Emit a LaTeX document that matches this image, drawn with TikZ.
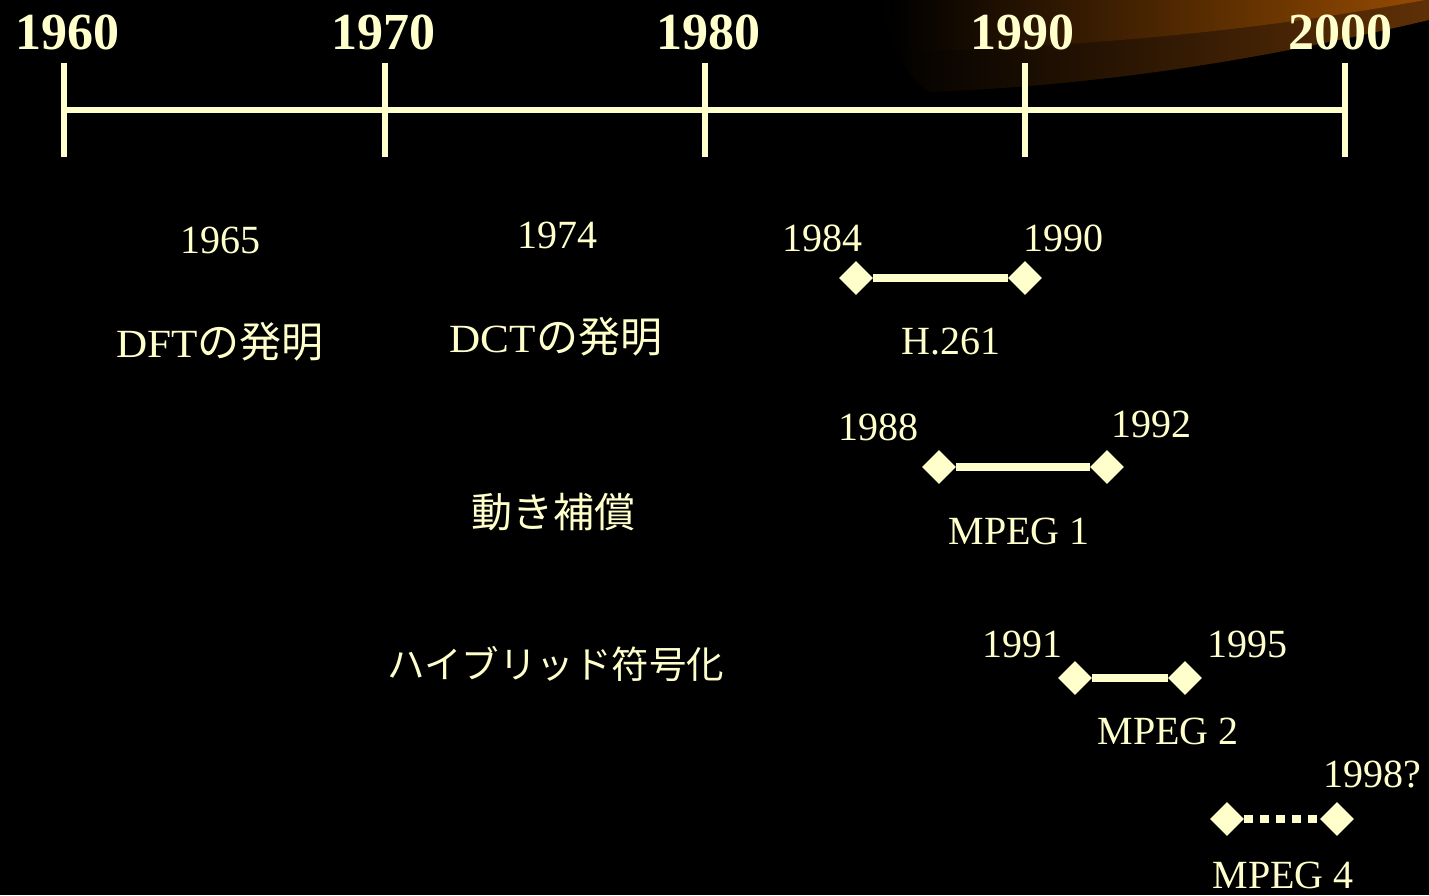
\documentclass[tikz,border=0pt]{standalone}
\usepackage{fontspec}
\setmainfont{Liberation Serif}
\newfontfamily\jp{Noto Sans CJK JP}
\usetikzlibrary{shapes.geometric}
\definecolor{cream}{HTML}{FFFFCC}
\definecolor{swA}{RGB}{95,48,6}
\definecolor{swB}{RGB}{150,75,2}
\begin{document}
\begin{tikzpicture}[x=1pt,y=-1pt,
  yearbig/.style={text=cream,font=\fontsize{52}{56}\selectfont\bfseries,inner sep=0},
  yearsm/.style={text=cream,font=\fontsize{40}{44}\selectfont,inner sep=0},
  label/.style={text=cream,font=\fontsize{40}{44}\selectfont,inner sep=0},
  jlabel/.style={text=cream,font=\fontsize{41}{44}\selectfont\jp,inner sep=0},
  dia/.style={diamond,fill=cream,draw=none,minimum width=34pt,minimum height=34pt,inner sep=0},
  span/.style={draw=cream,line width=7.5pt},
  dspan/.style={draw=cream,line width=8pt,dash pattern=on 9pt off 7pt},
  axis/.style={draw=cream,line width=6pt},
  tick/.style={draw=cream,line width=6pt}]
\fill[black] (0,0) rectangle (1429,895);
\useasboundingbox (0,0) rectangle (1429,895);
% swoosh
\shade[left color=black,right color=swA] (880,0) -- (1429,0) -- (1429,20) .. controls (1250,62) and (1100,85) .. (930,92) .. controls (905,80) and (890,40) .. (880,0) -- cycle;
\shade[left color=black,right color=swB] (890,0) -- (1425,0) .. controls (1260,30) and (1100,46) .. (900,52) -- cycle;
% axis
\coordinate (a0) at (64,110);
\coordinate (a4) at (1345,110);
\draw[axis] (a0) -- (a4);
\foreach \x/\n in {64/t0,385/t1,705/t2,1025/t3,1345/t4}{
  \coordinate (\n top) at (\x,63);
  \coordinate (\n bot) at (\x,157);
  \draw[tick] (\n top) -- (\n bot);
}
\node[yearbig] (y1960) at (68,32) {1960};
\node[yearbig] (y1970) at (383,32) {1970};
\node[yearbig] (y1980) at (708,32) {1980};
\node[yearbig] (y1990) at (1022,32) {1990};
\node[yearbig] (y2000) at (1340,32) {2000};
% DFT / DCT
\node[yearsm] (l1965) at (220,240) {1965};
\node[yearsm] (l1974) at (557,235) {1974};
\node[label] (dft) at (220,342) {\scalebox{1.08}[1]{DFT}{\jp\fontsize{42}{44}\selectfont の発明}};
\node[label] (dct) at (556,337) {\scalebox{1.08}[1]{DCT}{\jp\fontsize{42}{44}\selectfont の発明}};
\node[jlabel] (mc) at (553,512) {動き補償};
\node[jlabel,font=\fontsize{37.5}{44}\selectfont\jp] (hyb) at (556,664) {ハイブリッド符号化};
% H.261
\node[yearsm] (l1984) at (822,238) {1984};
\node[yearsm] (l1990) at (1063,238) {1990};
\node[dia] (h1) at (856,278) {};
\node[dia] (h2) at (1025,278) {};
\draw[span] (h1) -- (h2);
\node[label] (h261) at (951,342) {H.261};
% MPEG1
\node[yearsm] (l1988) at (878,427) {1988};
\node[yearsm] (l1992) at (1151,424) {1992};
\node[dia] (m1a) at (939,467) {};
\node[dia] (m1b) at (1107,467) {};
\draw[span] (m1a) -- (m1b);
\node[label] (mp1) at (1019,531) {MPEG 1};
% MPEG2
\node[yearsm] (l1991) at (1022,644) {1991};
\node[yearsm] (l1995) at (1247,644) {1995};
\node[dia] (m2a) at (1075,678) {};
\node[dia] (m2b) at (1185,678) {};
\draw[span] (m2a) -- (m2b);
\node[label] (mp2) at (1168,731) {MPEG 2};
% MPEG4
\node[yearsm] (l1998) at (1372,774) {1998?};
\node[dia] (m4a) at (1227,819) {};
\node[dia] (m4b) at (1337,819) {};
\draw[dspan] (m4a) -- (m4b);
\node[label] (mp4) at (1283,875) {MPEG 4};
\end{tikzpicture}
\end{document}
